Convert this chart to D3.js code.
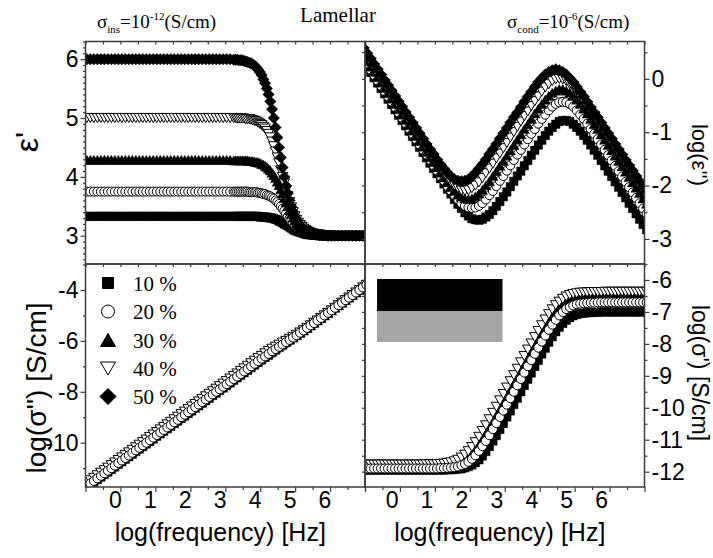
<!DOCTYPE html>
<html>
<head>
<meta charset="utf-8">
<script src="https://d3js.org/d3.v7.min.js"></script>
<style>
  html,body{margin:0;padding:0;background:#fff;}
  svg{display:block;}
</style>
</head>
<body>
<svg id="chart" width="713" height="558" xmlns="http://www.w3.org/2000/svg"></svg>
<script>
// ================= DATA =================
// frequency grid (log10 Hz) used by the epsilon'' and conductivity panels
const logFreq = [
 -0.9,-0.8,-0.7,-0.6,-0.5,-0.4,-0.3,-0.2,-0.1,0.0,
 0.1,0.2,0.3,0.4,0.5,0.6,0.7,0.8,0.9,1.0,
 1.1,1.2,1.3,1.4,1.5,1.6,1.7,1.8,1.9,2.0,
 2.1,2.2,2.3,2.4,2.5,2.6,2.7,2.8,2.9,3.0,
 3.1,3.2,3.3,3.4,3.5,3.6,3.7,3.8,3.9,4.0,
 4.1,4.2,4.3,4.4,4.5,4.6,4.7,4.8,4.9,5.0,
 5.1,5.2,5.3,5.4,5.5,5.6,5.7,5.8,5.9,6.0,
 6.1,6.2,6.3,6.4,6.5,6.6,6.7,6.8,6.9,7.0,
 7.1,7.2,7.3];
// frequency grid of the epsilon' panel (denser through the step)
const logFreqEps = [
 -0.9,-0.8,-0.7,-0.6,-0.5,-0.4,-0.3,-0.2,-0.1,0.0,
 0.1,0.2,0.3,0.4,0.5,0.6,0.7,0.8,0.9,1.0,
 1.1,1.2,1.3,1.4,1.5,1.6,1.7,1.8,1.9,2.0,
 2.1,2.2,2.3,2.4,2.5,2.6,2.7,2.8,2.9,3.0,
 3.1,3.2,3.3,3.4,
 3.45,3.5,3.55,3.6,3.65,3.7,3.75,3.8,3.85,3.9,
 3.95,4.0,4.05,4.1,4.15,4.2,4.25,4.3,4.35,4.4,
 4.45,4.5,4.55,4.6,4.65,4.7,4.75,4.8,4.85,4.9,
 4.95,5.0,5.05,5.1,5.15,5.2,5.25,5.3,5.35,5.4,
 5.45,5.5,5.55,5.6,5.65,5.7,5.75,5.8,5.85,5.9,
 5.95,6.0,
 6.1,6.2,6.3,6.4,6.5,6.6,6.7,6.8,6.9,7.0,
 7.1,7.2,7.3];

const seriesLabels = ["10 %","20 %","30 %","40 %","50 %"];
const seriesMarkers = ["square","circle","triangle","triangleDown","diamond"];
const seriesFilled = [true,false,true,false,true];

// epsilon' (top-left), on logFreqEps
const epsReal10 = [
 3.33,3.33,3.33,3.33,3.33,3.33,3.33,3.33,3.33,3.33,
 3.33,3.33,3.33,3.33,3.33,3.33,3.33,3.33,3.33,3.33,
 3.33,3.33,3.33,3.33,3.33,3.33,3.33,3.33,3.33,3.33,
 3.33,3.33,3.33,3.33,3.33,3.33,3.33,3.33,3.33,3.33,
 3.33,3.33,3.33,3.33,
 3.33,3.33,3.33,3.33,3.33,3.33,3.33,3.33,3.33,3.33,
 3.33,3.33,3.33,3.33,3.32,3.32,3.32,3.32,3.31,3.31,
 3.30,3.30,3.29,3.28,3.27,3.25,3.24,3.22,3.20,3.19,
 3.17,3.15,3.13,3.11,3.09,3.08,3.07,3.06,3.05,3.04,
 3.03,3.02,3.02,3.02,3.01,3.01,3.01,3.01,3.01,3.00,
 3.00,3.00,
 3.00,3.00,3.00,3.00,3.00,3.00,3.00,3.00,3.00,3.00,
 3.00,3.00,3.00];
const epsReal20 = [
 3.75,3.75,3.75,3.75,3.75,3.75,3.75,3.75,3.75,3.75,
 3.75,3.75,3.75,3.75,3.75,3.75,3.75,3.75,3.75,3.75,
 3.75,3.75,3.75,3.75,3.75,3.75,3.75,3.75,3.75,3.75,
 3.75,3.75,3.75,3.75,3.75,3.75,3.75,3.75,3.75,3.75,
 3.75,3.75,3.75,3.75,
 3.75,3.75,3.75,3.75,3.75,3.75,3.75,3.75,3.74,3.74,
 3.74,3.74,3.74,3.73,3.73,3.72,3.71,3.71,3.69,3.68,
 3.67,3.65,3.63,3.60,3.57,3.54,3.50,3.46,3.42,3.38,
 3.33,3.29,3.25,3.21,3.18,3.15,3.12,3.10,3.08,3.07,
 3.06,3.04,3.04,3.03,3.02,3.02,3.01,3.01,3.01,3.01,
 3.01,3.00,
 3.00,3.00,3.00,3.00,3.00,3.00,3.00,3.00,3.00,3.00,
 3.00,3.00,3.00];
const epsReal30 = [
 4.29,4.29,4.29,4.29,4.29,4.29,4.29,4.29,4.29,4.29,
 4.29,4.29,4.29,4.29,4.29,4.29,4.29,4.29,4.29,4.29,
 4.29,4.29,4.29,4.29,4.29,4.29,4.29,4.29,4.29,4.29,
 4.29,4.29,4.29,4.29,4.29,4.29,4.29,4.29,4.29,4.29,
 4.29,4.29,4.29,4.28,
 4.28,4.28,4.28,4.28,4.28,4.28,4.28,4.28,4.27,4.27,
 4.27,4.26,4.25,4.25,4.24,4.22,4.21,4.19,4.17,4.14,
 4.11,4.07,4.03,3.98,3.92,3.86,3.79,3.72,3.64,3.57,
 3.50,3.43,3.37,3.31,3.26,3.21,3.18,3.14,3.12,3.09,
 3.08,3.06,3.05,3.04,3.03,3.03,3.02,3.02,3.01,3.01,
 3.01,3.01,
 3.00,3.00,3.00,3.00,3.00,3.00,3.00,3.00,3.00,3.00,
 3.00,3.00,3.00];
const epsReal40 = [
 5.00,5.00,5.00,5.00,5.00,5.00,5.00,5.00,5.00,5.00,
 5.00,5.00,5.00,5.00,5.00,5.00,5.00,5.00,5.00,5.00,
 5.00,5.00,5.00,5.00,5.00,5.00,5.00,5.00,5.00,5.00,
 5.00,5.00,5.00,5.00,5.00,5.00,5.00,5.00,5.00,5.00,
 5.00,5.00,5.00,5.00,
 5.00,4.99,4.99,4.99,4.99,4.99,4.98,4.98,4.98,4.97,
 4.96,4.95,4.94,4.92,4.90,4.88,4.85,4.82,4.78,4.73,
 4.67,4.60,4.52,4.43,4.33,4.23,4.11,4.00,3.89,3.77,
 3.67,3.57,3.48,3.40,3.33,3.27,3.22,3.18,3.15,3.12,
 3.10,3.08,3.06,3.05,3.04,3.03,3.02,3.02,3.02,3.01,
 3.01,3.01,
 3.01,3.00,3.00,3.00,3.00,3.00,3.00,3.00,3.00,3.00,
 3.00,3.00,3.00];
const epsReal50 = [
 6.00,6.00,6.00,6.00,6.00,6.00,6.00,6.00,6.00,6.00,
 6.00,6.00,6.00,6.00,6.00,6.00,6.00,6.00,6.00,6.00,
 6.00,6.00,6.00,6.00,6.00,6.00,6.00,6.00,6.00,6.00,
 6.00,6.00,6.00,6.00,6.00,6.00,6.00,6.00,6.00,6.00,
 6.00,6.00,6.00,5.99,
 5.99,5.99,5.98,5.98,5.98,5.97,5.96,5.95,5.94,5.93,
 5.91,5.89,5.86,5.82,5.78,5.73,5.66,5.59,5.50,5.40,
 5.28,5.15,5.00,4.84,4.67,4.50,4.33,4.16,4.00,3.85,
 3.72,3.60,3.50,3.41,3.34,3.27,3.22,3.18,3.14,3.11,
 3.09,3.07,3.06,3.05,3.04,3.03,3.02,3.02,3.01,3.01,
 3.01,3.01,
 3.00,3.00,3.00,3.00,3.00,3.00,3.00,3.00,3.00,3.00,
 3.00,3.00,3.00];

// log(epsilon'') (top-right), on logFreq
const logEpsImag10 = [
 0.42,0.32,0.22,0.12,0.02,-0.08,-0.18,-0.28,-0.38,-0.48,
 -0.58,-0.68,-0.78,-0.88,-0.98,-1.08,-1.18,-1.28,-1.38,-1.48,
 -1.58,-1.68,-1.78,-1.87,-1.97,-2.07,-2.16,-2.26,-2.35,-2.43,
 -2.51,-2.57,-2.62,-2.64,-2.65,-2.63,-2.59,-2.54,-2.47,-2.39,
 -2.30,-2.21,-2.12,-2.02,-1.92,-1.82,-1.73,-1.63,-1.53,-1.43,
 -1.34,-1.24,-1.15,-1.06,-0.98,-0.91,-0.85,-0.80,-0.78,-0.78,
 -0.80,-0.85,-0.91,-0.98,-1.06,-1.15,-1.24,-1.34,-1.43,-1.53,
 -1.63,-1.73,-1.83,-1.93,-2.03,-2.13,-2.23,-2.33,-2.43,-2.53,
 -2.63,-2.73,-2.83];
const logEpsImag20 = [
 0.47,0.37,0.27,0.17,0.07,-0.03,-0.13,-0.23,-0.33,-0.43,
 -0.53,-0.63,-0.73,-0.83,-0.93,-1.03,-1.13,-1.23,-1.33,-1.42,
 -1.52,-1.62,-1.72,-1.82,-1.91,-2.01,-2.10,-2.18,-2.26,-2.33,
 -2.38,-2.41,-2.42,-2.41,-2.38,-2.33,-2.26,-2.18,-2.10,-2.01,
 -1.91,-1.82,-1.72,-1.62,-1.52,-1.42,-1.33,-1.23,-1.13,-1.03,
 -0.94,-0.84,-0.75,-0.67,-0.59,-0.52,-0.47,-0.44,-0.43,-0.44,
 -0.47,-0.52,-0.59,-0.67,-0.75,-0.84,-0.94,-1.03,-1.13,-1.23,
 -1.33,-1.43,-1.53,-1.63,-1.73,-1.83,-1.93,-2.03,-2.13,-2.23,
 -2.33,-2.43,-2.53];
const logEpsImag30 = [
 0.53,0.43,0.33,0.23,0.13,0.03,-0.07,-0.17,-0.27,-0.37,
 -0.47,-0.57,-0.67,-0.77,-0.87,-0.97,-1.07,-1.17,-1.27,-1.37,
 -1.47,-1.56,-1.66,-1.76,-1.85,-1.94,-2.03,-2.10,-2.17,-2.21,
 -2.24,-2.25,-2.24,-2.20,-2.15,-2.08,-2.00,-1.92,-1.82,-1.73,
 -1.63,-1.54,-1.44,-1.34,-1.24,-1.14,-1.04,-0.94,-0.85,-0.75,
 -0.65,-0.56,-0.47,-0.39,-0.32,-0.26,-0.22,-0.19,-0.19,-0.22,
 -0.26,-0.32,-0.39,-0.47,-0.56,-0.65,-0.75,-0.85,-0.94,-1.04,
 -1.14,-1.24,-1.34,-1.44,-1.54,-1.64,-1.74,-1.84,-1.94,-2.04,
 -2.14,-2.24,-2.34];
const logEpsImag40 = [
 0.60,0.50,0.40,0.30,0.20,0.10,0.00,-0.10,-0.20,-0.30,
 -0.40,-0.50,-0.60,-0.70,-0.80,-0.90,-1.00,-1.10,-1.20,-1.30,
 -1.40,-1.49,-1.59,-1.68,-1.77,-1.86,-1.94,-2.00,-2.05,-2.09,
 -2.10,-2.09,-2.05,-2.00,-1.94,-1.86,-1.77,-1.68,-1.59,-1.49,
 -1.40,-1.30,-1.20,-1.10,-1.00,-0.90,-0.80,-0.70,-0.61,-0.51,
 -0.42,-0.33,-0.24,-0.16,-0.10,-0.04,-0.01,0.00,-0.01,-0.04,
 -0.10,-0.16,-0.24,-0.33,-0.42,-0.51,-0.61,-0.70,-0.80,-0.90,
 -1.00,-1.10,-1.20,-1.30,-1.40,-1.50,-1.60,-1.70,-1.80,-1.90,
 -2.00,-2.10,-2.20];
const logEpsImag50 = [
 0.68,0.58,0.48,0.38,0.28,0.18,0.08,-0.02,-0.12,-0.22,
 -0.32,-0.42,-0.52,-0.62,-0.72,-0.82,-0.92,-1.02,-1.12,-1.22,
 -1.32,-1.41,-1.51,-1.60,-1.68,-1.76,-1.83,-1.88,-1.91,-1.92,
 -1.91,-1.88,-1.83,-1.76,-1.68,-1.60,-1.51,-1.41,-1.32,-1.22,
 -1.12,-1.02,-0.92,-0.82,-0.72,-0.63,-0.53,-0.43,-0.33,-0.24,
 -0.15,-0.06,0.01,0.08,0.13,0.16,0.18,0.16,0.13,0.08,
 0.01,-0.06,-0.15,-0.24,-0.33,-0.43,-0.53,-0.63,-0.72,-0.82,
 -0.92,-1.02,-1.12,-1.22,-1.32,-1.42,-1.52,-1.62,-1.72,-1.82,
 -1.92,-2.02,-2.12];

// log(sigma'') (bottom-left), on logFreq
const logSigmaImag10 = [
 -11.85,-11.75,-11.65,-11.55,-11.45,-11.35,-11.25,-11.15,-11.05,-10.95,
 -10.85,-10.75,-10.65,-10.55,-10.45,-10.35,-10.25,-10.15,-10.05,-9.95,
 -9.85,-9.75,-9.65,-9.55,-9.45,-9.35,-9.25,-9.15,-9.05,-8.95,
 -8.85,-8.75,-8.65,-8.55,-8.45,-8.35,-8.25,-8.15,-8.05,-7.95,
 -7.85,-7.75,-7.65,-7.55,-7.45,-7.35,-7.25,-7.15,-7.05,-6.95,
 -6.85,-6.75,-6.65,-6.56,-6.46,-6.36,-6.26,-6.17,-6.07,-5.98,
 -5.88,-5.79,-5.69,-5.59,-5.50,-5.40,-5.30,-5.20,-5.10,-5.00,
 -4.90,-4.80,-4.70,-4.60,-4.50,-4.40,-4.30,-4.20,-4.10,-4.00,
 -3.90,-3.80,-3.70];
const logSigmaImag20 = [
 -11.80,-11.70,-11.60,-11.50,-11.40,-11.30,-11.20,-11.10,-11.00,-10.90,
 -10.80,-10.70,-10.60,-10.50,-10.40,-10.30,-10.20,-10.10,-10.00,-9.90,
 -9.80,-9.70,-9.60,-9.50,-9.40,-9.30,-9.20,-9.10,-9.00,-8.90,
 -8.80,-8.70,-8.60,-8.50,-8.40,-8.30,-8.20,-8.10,-8.00,-7.90,
 -7.80,-7.70,-7.60,-7.50,-7.40,-7.30,-7.20,-7.10,-7.00,-6.90,
 -6.80,-6.70,-6.61,-6.51,-6.41,-6.32,-6.23,-6.14,-6.05,-5.96,
 -5.87,-5.78,-5.68,-5.59,-5.49,-5.39,-5.30,-5.20,-5.10,-5.00,
 -4.90,-4.80,-4.70,-4.60,-4.50,-4.40,-4.30,-4.20,-4.10,-4.00,
 -3.90,-3.80,-3.70];
const logSigmaImag30 = [
 -11.74,-11.64,-11.54,-11.44,-11.34,-11.24,-11.14,-11.04,-10.94,-10.84,
 -10.74,-10.64,-10.54,-10.44,-10.34,-10.24,-10.14,-10.04,-9.94,-9.84,
 -9.74,-9.64,-9.54,-9.44,-9.34,-9.24,-9.14,-9.04,-8.94,-8.84,
 -8.74,-8.64,-8.54,-8.44,-8.34,-8.24,-8.14,-8.04,-7.94,-7.84,
 -7.74,-7.64,-7.54,-7.44,-7.34,-7.24,-7.14,-7.04,-6.94,-6.85,
 -6.75,-6.65,-6.55,-6.46,-6.37,-6.28,-6.19,-6.10,-6.02,-5.94,
 -5.86,-5.77,-5.68,-5.59,-5.49,-5.39,-5.29,-5.20,-5.10,-5.00,
 -4.90,-4.80,-4.70,-4.60,-4.50,-4.40,-4.30,-4.20,-4.10,-4.00,
 -3.90,-3.80,-3.70];
const logSigmaImag40 = [
 -11.68,-11.58,-11.48,-11.38,-11.28,-11.18,-11.08,-10.98,-10.88,-10.78,
 -10.68,-10.58,-10.48,-10.38,-10.28,-10.18,-10.08,-9.98,-9.88,-9.78,
 -9.68,-9.58,-9.48,-9.38,-9.28,-9.18,-9.08,-8.98,-8.88,-8.78,
 -8.68,-8.58,-8.48,-8.38,-8.28,-8.18,-8.08,-7.98,-7.88,-7.78,
 -7.68,-7.58,-7.48,-7.38,-7.28,-7.18,-7.08,-6.98,-6.88,-6.78,
 -6.68,-6.59,-6.49,-6.40,-6.31,-6.23,-6.15,-6.07,-6.00,-5.92,
 -5.84,-5.76,-5.67,-5.58,-5.49,-5.39,-5.29,-5.20,-5.10,-5.00,
 -4.90,-4.80,-4.70,-4.60,-4.50,-4.40,-4.30,-4.20,-4.10,-4.00,
 -3.90,-3.80,-3.70];

// log(sigma') (bottom-right), on logFreq
const logSigmaReal10 = [
 -11.95,-11.95,-11.95,-11.95,-11.95,-11.95,-11.95,-11.95,-11.95,-11.95,
 -11.95,-11.95,-11.95,-11.95,-11.95,-11.95,-11.95,-11.95,-11.95,-11.95,
 -11.95,-11.95,-11.95,-11.95,-11.95,-11.94,-11.94,-11.93,-11.92,-11.91,
 -11.88,-11.84,-11.79,-11.72,-11.63,-11.51,-11.37,-11.21,-11.04,-10.87,
 -10.68,-10.49,-10.29,-10.10,-9.90,-9.70,-9.50,-9.30,-9.11,-8.91,
 -8.71,-8.52,-8.32,-8.14,-7.95,-7.78,-7.62,-7.48,-7.36,-7.26,
 -7.18,-7.12,-7.08,-7.05,-7.04,-7.02,-7.02,-7.01,-7.01,-7.00,
 -7.00,-7.00,-7.00,-7.00,-7.00,-7.00,-7.00,-7.00,-7.00,-7.00,
 -7.00,-7.00,-7.00];
const logSigmaReal20 = [
 -11.90,-11.90,-11.90,-11.90,-11.90,-11.90,-11.90,-11.90,-11.90,-11.90,
 -11.90,-11.90,-11.90,-11.90,-11.90,-11.90,-11.90,-11.90,-11.90,-11.90,
 -11.90,-11.90,-11.90,-11.89,-11.89,-11.88,-11.87,-11.86,-11.84,-11.80,
 -11.76,-11.69,-11.60,-11.49,-11.35,-11.20,-11.04,-10.86,-10.67,-10.48,
 -10.29,-10.09,-9.90,-9.70,-9.50,-9.30,-9.10,-8.90,-8.70,-8.51,
 -8.31,-8.12,-7.93,-7.74,-7.56,-7.40,-7.25,-7.11,-7.00,-6.91,
 -6.85,-6.80,-6.76,-6.74,-6.73,-6.72,-6.71,-6.71,-6.70,-6.70,
 -6.70,-6.70,-6.70,-6.70,-6.70,-6.70,-6.70,-6.70,-6.70,-6.70,
 -6.70,-6.70,-6.70];
const logSigmaReal30 = [
 -11.84,-11.84,-11.84,-11.84,-11.84,-11.84,-11.84,-11.84,-11.84,-11.84,
 -11.84,-11.84,-11.84,-11.84,-11.84,-11.84,-11.84,-11.84,-11.84,-11.84,
 -11.84,-11.84,-11.84,-11.83,-11.83,-11.82,-11.80,-11.78,-11.74,-11.69,
 -11.62,-11.53,-11.41,-11.28,-11.12,-10.96,-10.78,-10.59,-10.40,-10.21,
 -10.01,-9.81,-9.61,-9.41,-9.21,-9.02,-8.82,-8.62,-8.42,-8.22,
 -8.03,-7.84,-7.65,-7.47,-7.30,-7.14,-6.99,-6.87,-6.77,-6.69,
 -6.64,-6.60,-6.57,-6.55,-6.54,-6.53,-6.53,-6.52,-6.52,-6.52,
 -6.52,-6.52,-6.52,-6.52,-6.52,-6.52,-6.52,-6.52,-6.52,-6.52,
 -6.52,-6.52,-6.52];
const logSigmaReal40 = [
 -11.78,-11.78,-11.78,-11.78,-11.78,-11.78,-11.78,-11.78,-11.78,-11.78,
 -11.78,-11.78,-11.78,-11.78,-11.78,-11.78,-11.78,-11.78,-11.78,-11.77,
 -11.77,-11.77,-11.76,-11.76,-11.75,-11.73,-11.71,-11.68,-11.63,-11.56,
 -11.47,-11.36,-11.23,-11.08,-10.91,-10.73,-10.55,-10.36,-10.16,-9.97,
 -9.77,-9.57,-9.37,-9.17,-8.98,-8.78,-8.58,-8.38,-8.18,-7.99,
 -7.79,-7.60,-7.42,-7.24,-7.07,-6.92,-6.79,-6.68,-6.59,-6.52,
 -6.47,-6.44,-6.42,-6.40,-6.39,-6.39,-6.38,-6.38,-6.38,-6.38,
 -6.37,-6.37,-6.37,-6.37,-6.37,-6.37,-6.37,-6.37,-6.37,-6.37,
 -6.37,-6.37,-6.37];

const xTickLabels = [0,1,2,3,4,5,6];
const yTicksEpsReal = [3,4,5,6];
const yTicksEpsImag = [-3,-2,-1,0];
const yTicksSigmaImag = [-10,-8,-6,-4];
const yTicksSigmaReal = [-12,-11,-10,-9,-8,-7,-6];

// ================= LAYOUT =================
const W = 713, H = 558;
const L = 85.5, M = 365, R = 644.5, T = 41.5, Y = 264, B = 487;
const SANS = "'Liberation Sans', Arial, sans-serif";
const SERIF = "'Liberation Serif', 'Times New Roman', serif";
const AXIS_COLOR = "#3c3c3c";

const svg = d3.select("#chart");
svg.append("rect").attr("width", W).attr("height", H).attr("fill", "#fff");
const defs = svg.append("defs");

function markerPath(type, s) {
  const p = d3.path();
  if (type === "square") { p.rect(-s/2, -s/2, s, s); }
  else if (type === "circle") { p.moveTo(s/2, 0); p.arc(0, 0, s/2, 0, 2*Math.PI); }
  else if (type === "triangle") { const h = s*0.866; p.moveTo(0, -h/2); p.lineTo(s/2, h/2); p.lineTo(-s/2, h/2); p.closePath(); }
  else if (type === "triangleDown") { const h = s*0.866; p.moveTo(0, h/2); p.lineTo(s/2, -h/2); p.lineTo(-s/2, -h/2); p.closePath(); }
  else if (type === "diamond") { const r = s/2; p.moveTo(0, -r); p.lineTo(r, 0); p.lineTo(0, r); p.lineTo(-r, 0); p.closePath(); }
  return p.toString();
}
const dataSize = {square: 8.5, circle: 9, triangle: 10.5, triangleDown: 10.5, diamond: 11.5};
const legendSize = {square: 11, circle: 13, triangle: 15, triangleDown: 15, diamond: 16};

const panels = [
  {id:"tl", xr:[L,M], yr:[Y,T], xdom:[-0.84,7.16], ydom:[2.52,6.30], freq:logFreqEps,
   series:[epsReal10,epsReal20,epsReal30,epsReal40,epsReal50], order:[0,1,2,3,4],
   yMajor:yTicksEpsReal, yMinorStep:0.1, side:"left"},
  {id:"tr", xr:[M,R], yr:[Y,T], xdom:[-0.76,7.24], ydom:[-3.47,0.70], freq:logFreq,
   series:[logEpsImag10,logEpsImag20,logEpsImag30,logEpsImag40,logEpsImag50], order:[0,1,2,3,4],
   yMajor:yTicksEpsImag, yMinorStep:0.5, side:"right"},
  {id:"bl", xr:[L,M], yr:[B,Y], xdom:[-0.84,7.16], ydom:[-11.74,-2.98], freq:logFreq,
   series:[logSigmaImag10,logSigmaImag20,logSigmaImag30,logSigmaImag40], order:[2,0,3,1],
   yMajor:yTicksSigmaImag, yMinorStep:1, side:"left"},
  {id:"br", xr:[M,R], yr:[B,Y], xdom:[-0.76,7.24], ydom:[-12.48,-5.50], freq:logFreq,
   series:[logSigmaReal10,logSigmaReal20,logSigmaReal30,logSigmaReal40], order:[2,0,3,1],
   yMajor:yTicksSigmaReal, yMinorStep:0.5, side:"right"}
];

function styleAxis(sel, fs) {
  sel.select(".domain").remove();
  sel.selectAll(".tick line").attr("stroke", AXIS_COLOR).attr("stroke-width", 1.2);
  sel.selectAll("text").attr("font-family", SANS).attr("font-size", fs).attr("fill", "#000");
}

panels.forEach(p => {
  const xs = d3.scaleLinear().domain(p.xdom).range(p.xr);
  const ys = d3.scaleLinear().domain(p.ydom).range(p.yr);
  p.xs = xs; p.ys = ys;
  const clipId = "clip-" + p.id;
  defs.append("clipPath").attr("id", clipId).append("rect")
    .attr("x", p.xr[0]).attr("y", p.yr[1])
    .attr("width", p.xr[1]-p.xr[0]).attr("height", p.yr[0]-p.yr[1]);
  const g = svg.append("g").attr("clip-path", `url(#${clipId})`);
  p.order.forEach(i => {
    const arr = p.series[i];
    const type = seriesMarkers[i];
    const d = markerPath(type, dataSize[type]);
    const pts = p.freq.map((f, k) => [f, arr[k]]).filter(q => q[1] !== undefined);
    g.append("g").selectAll("path").data(pts).join("path")
      .attr("d", d)
      .attr("transform", q => `translate(${xs(q[0]).toFixed(2)},${ys(q[1]).toFixed(2)})`)
      .attr("fill", seriesFilled[i] ? "#000" : "#fff")
      .attr("stroke", "#000")
      .attr("stroke-width", seriesFilled[i] ? 0.4 : 1);
  });
});

// inset lamellar sketch (bottom-right)
svg.append("rect").attr("x", 377).attr("y", 279).attr("width", 125.5).attr("height", 32).attr("fill", "#000");
svg.append("rect").attr("x", 377).attr("y", 311).attr("width", 125.5).attr("height", 31).attr("fill", "#a6a6a6");

// axes
panels.forEach(p => {
  const xs = p.xs, ys = p.ys;
  const isTop = p.yr[1] === T;
  const xt = d3.range(0, 17).map(k => p.xdom[0] + k*0.5);
  const xMaj = xt.filter((v,k) => k % 2 === 0), xMin = xt.filter((v,k) => k % 2 === 1);
  if (!isTop) {
    svg.append("g").attr("transform", `translate(0,${B})`)
      .call(d3.axisBottom(xs).tickValues(xMaj).tickSize(5).tickFormat("")).call(styleAxis, 23);
    svg.append("g").attr("transform", `translate(0,${B})`)
      .call(d3.axisBottom(xs).tickValues(xMin).tickSize(3).tickFormat("")).call(styleAxis, 23);
    svg.append("g").attr("transform", `translate(0,${B})`)
      .call(d3.axisBottom(xs).tickValues(xTickLabels).tickSize(0).tickPadding(5).tickFormat(d => String(d)))
      .call(styleAxis, 23);
    svg.append("g").attr("transform", `translate(0,${Y})`)
      .call(d3.axisBottom(xs).tickValues(xt).tickSize(3).tickFormat("")).call(styleAxis, 23);
  } else {
    svg.append("g").attr("transform", `translate(0,${T})`)
      .call(d3.axisBottom(xs).tickValues(xt).tickSize(3).tickFormat("")).call(styleAxis, 23);
  }
  const minor = d3.range(Math.ceil(p.ydom[0]/p.yMinorStep)*p.yMinorStep, p.ydom[1]+1e-9, p.yMinorStep)
    .filter(v => !p.yMajor.some(m => Math.abs(m - v) < 1e-6));
  if (p.side === "left") {
    svg.append("g").attr("transform", `translate(${L},0)`)
      .call(d3.axisLeft(ys).tickValues(minor).tickSize(2.5).tickFormat("")).call(styleAxis, 23);
    svg.append("g").attr("transform", `translate(${L},0)`)
      .call(d3.axisLeft(ys).tickValues(p.yMajor).tickSize(5).tickPadding(2).tickFormat(d => String(d)))
      .call(styleAxis, 23);
  } else {
    svg.append("g").attr("transform", `translate(${R},0)`)
      .call(d3.axisRight(ys).tickValues(minor).tickSize(3).tickFormat("")).call(styleAxis, 23);
    svg.append("g").attr("transform", `translate(${R},0)`)
      .call(d3.axisRight(ys).tickValues(p.yMajor).tickSize(5).tickPadding(2).tickFormat(d => String(d)))
      .call(styleAxis, 23);
    svg.append("g").attr("transform", `translate(${M},0)`)
      .call(d3.axisLeft(ys).tickValues(p.yMajor.concat(minor)).tickSize(3).tickFormat("")).call(styleAxis, 23);
  }
  svg.append("rect").attr("x", p.xr[0]).attr("y", p.yr[1])
    .attr("width", p.xr[1]-p.xr[0]).attr("height", p.yr[0]-p.yr[1])
    .attr("fill", "none").attr("stroke", AXIS_COLOR).attr("stroke-width", 1.5);
});

// axis titles
svg.append("text").attr("transform", "translate(38,142) rotate(-90)")
  .attr("text-anchor", "middle").attr("font-family", SANS).attr("font-size", 32).text("ε'");
svg.append("text").attr("transform", "translate(46,388) rotate(-90)")
  .attr("text-anchor", "middle").attr("font-family", SANS).attr("font-size", 28).text("log(σ'') [S/cm]");
svg.append("text").attr("transform", "translate(692,155) rotate(90)")
  .attr("text-anchor", "middle").attr("font-family", SANS).attr("font-size", 22).text("log(ε'')");
svg.append("text").attr("transform", "translate(692,373) rotate(90)")
  .attr("text-anchor", "middle").attr("font-family", SANS).attr("font-size", 23).text("log(σ') [S/cm]");
[[(L+M)/2 - 5, "log(frequency) [Hz]"], [(M+R)/2 - 5, "log(frequency) [Hz]"]].forEach(([cx, t]) => {
  svg.append("text").attr("x", cx).attr("y", 541).attr("text-anchor", "middle")
    .attr("font-family", SANS).attr("font-size", 25).text(t);
});

// top titles
function condTitle(x, sub, sup) {
  const t = svg.append("text").attr("x", x).attr("y", 28).attr("font-family", SERIF).attr("font-size", 19);
  t.append("tspan").text("σ");
  t.append("tspan").attr("font-size", 11).attr("dy", 5).text(sub);
  t.append("tspan").attr("dy", -5).text("=10");
  t.append("tspan").attr("font-size", 11).attr("dy", -8).text(sup);
  t.append("tspan").attr("dy", 8).text("(S/cm)");
}
condTitle(97, "ins", "-12");
condTitle(507, "cond", "-6");
svg.append("text").attr("x", 338).attr("y", 22).attr("text-anchor", "middle")
  .attr("font-family", SERIF).attr("font-size", 21).text("Lamellar");

// legend
const legendY = [283, 311.5, 340, 368.5, 396.5];
seriesLabels.forEach((lab, i) => {
  const type = seriesMarkers[i];
  svg.append("path").attr("d", markerPath(type, legendSize[type]))
    .attr("transform", `translate(108,${legendY[i]})`)
    .attr("fill", seriesFilled[i] ? "#000" : "#fff").attr("stroke", "#000").attr("stroke-width", 1);
  svg.append("text").attr("x", 133).attr("y", legendY[i] + 7.5)
    .attr("font-family", SERIF).attr("font-size", 21).text(lab);
});
</script>
</body>
</html>
